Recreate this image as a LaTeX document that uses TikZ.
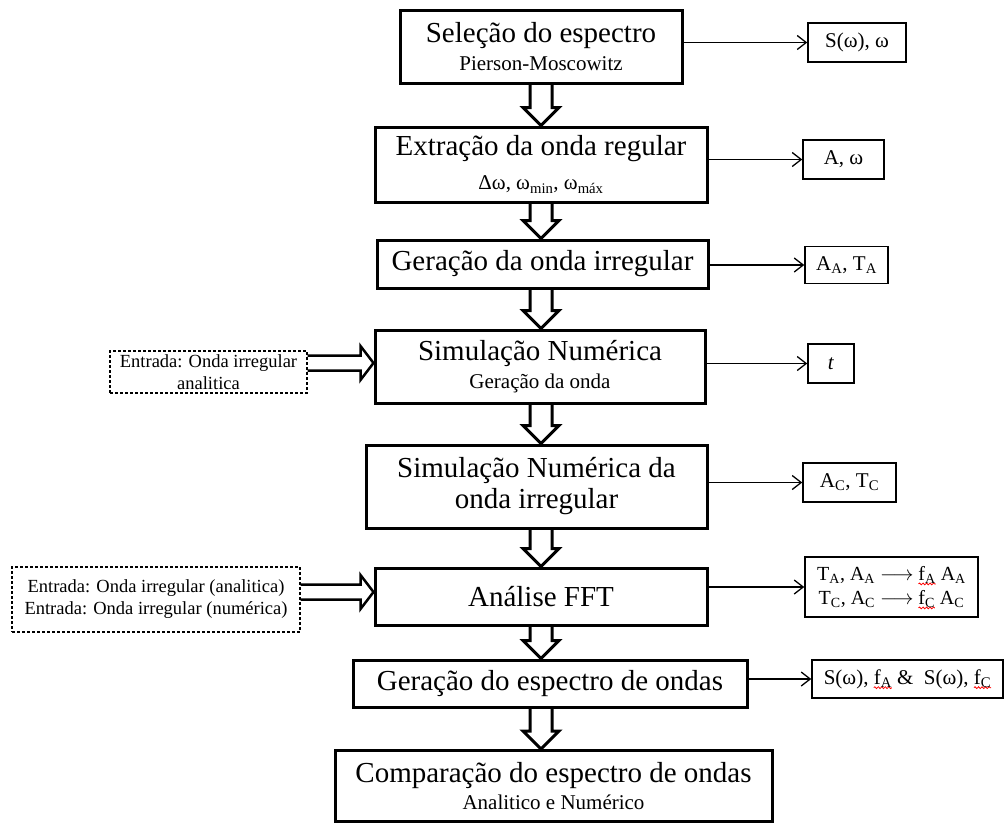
\documentclass[tikz,border=0pt]{standalone}
\usepackage{fontspec}
\setmainfont{Liberation Serif}
\usetikzlibrary{arrows.meta,calc,decorations.pathmorphing}
\newcommand\tfont{\fontsize{29}{31}\selectfont}
\newcommand\sfont{\fontsize{21}{23}\selectfont}
\newcommand\rfont{\fontsize{21}{24}\selectfont}
\newcommand\lfont{\fontsize{18.5}{22}\selectfont}
\newcommand\lsub[1]{\textsubscript{#1}}
\newsavebox\squigbox
\newcommand\squig[1]{\sbox\squigbox{#1}\makebox[0pt][l]{\tikz[overlay]\draw[red, line width=0.8pt, decorate, decoration={snake, amplitude=0.9pt, segment length=3.5pt}] (0pt,-3.5pt) -- (\wd\squigbox,-3.5pt);}\usebox\squigbox}
\newcommand\vblock[2]{\draw[blockarr] let \p1=(#1), \p2=(#2) in
  (\x1-11pt,\y1) -- (\x1-11pt,\y2+18pt) -- (\x1-18pt,\y2+18pt) -- (\x1,\y2)
  -- (\x1+18pt,\y2+18pt) -- (\x1+11pt,\y2+18pt) -- (\x1+11pt,\y1);}
\newcommand\hblock[2]{\draw[blockarr,line width=2.5pt] let \p1=(#1), \p2=(#2) in
  (\x1,\y1+7.5pt) -- (\x2-13pt,\y1+7.5pt) -- (\x2-13pt,\y1+17pt) -- (\x2,\y1)
  -- (\x2-13pt,\y1-17pt) -- (\x2-13pt,\y1-7.5pt) -- (\x1,\y1-7.5pt);}
\tikzset{
  mainbox/.style={draw, line width=3pt, align=center, inner sep=0pt, font=\tfont},
  rbox/.style={draw, line width=1.5pt, align=center, inner sep=0pt, font=\rfont},
  dbox/.style={draw, line width=1.2pt, dash pattern=on 3pt off 2pt, align=center, inner sep=0pt, font=\lfont},
  tarrow/.style={line width=1.3pt, -{Straight Barb[length=9pt,width=14pt,line width=1.3pt]}},
  blockarr/.style={line width=3pt, line join=miter},
}
\begin{document}
\begin{tikzpicture}[x=1pt,y=-1pt]
\useasboundingbox (0,0) rectangle (1006,823);
% main column
\node[mainbox, minimum width=282pt, minimum height=73pt] (b1) at (541,46.5)
  {Seleção do espectro\\[-3pt]{\sfont Pierson-Moscowitz}};
\node[mainbox, minimum width=332pt, minimum height=75pt] (b2) at (541,164.5)
  {Extração da onda regular\\[3pt]{\sfont Δω, ω\lsub{min}, ω\lsub{máx}}};
\node[mainbox, minimum width=331pt, minimum height=48pt] (b3) at (542.5,264)
  {Geração da onda irregular};
\node[mainbox, minimum width=330pt, minimum height=73pt] (b4) at (540,366.5)
  {Simulação Numérica\\[-3pt]{\sfont Geração da onda}};
\node[mainbox, minimum width=341pt, minimum height=83pt] (b5) at (536.5,486.5)
  {Simulação Numérica da\\onda irregular};
\node[mainbox, minimum width=332pt, minimum height=57pt] (b6) at (541,596.5)
  {Análise FFT};
\node[mainbox, minimum width=394pt, minimum height=47pt] (b7) at (550,683.5)
  {Geração do espectro de ondas};
\node[mainbox, minimum width=437pt, minimum height=71pt] (b8) at (553.5,786)
  {Comparação do espectro de ondas\\[-4pt]{\sfont Analitico e Numérico}};
% right boxes
\node[rbox, minimum width=98pt, minimum height=39pt] (r1) at (857,42.5) {S(ω), ω};
\node[rbox, minimum width=81pt, minimum height=39pt] (r2) at (843.5,159.5) {A, ω};
\node[rbox, minimum width=83pt, minimum height=37pt] (r3) at (846.5,265) {A\lsub{A}, T\lsub{A}};
\node[rbox, minimum width=46pt, minimum height=39pt] (r4) at (831,363.5) {\textit{t}};
\node[rbox, minimum width=93pt, minimum height=39pt] (r5) at (849.5,482.5) {A\lsub{C}, T\lsub{C}};
\node[rbox, minimum width=173pt, minimum height=60pt, font=\fontsize{20}{24}\selectfont] (r6) at (891.5,587)
  {T\lsub{A}, A\lsub{A} $\longrightarrow$ \squig{f\lsub{A}} A\lsub{A}\\T\lsub{C}, A\lsub{C} $\longrightarrow$ \squig{f\lsub{C}} A\lsub{C}};
\node[rbox, minimum width=191pt, minimum height=38pt] (r7) at (907.5,679)
  {S(ω), \squig{f\lsub{A}} \& \ S(ω), \squig{f\lsub{C}}};
% left dashed boxes
\node[dbox, minimum width=197pt, minimum height=42pt] (d1) at (208.5,372)
  {Entrada: Onda irregular\\analitica};
\node[dbox, minimum width=288pt, minimum height=65pt] (d2) at (156,599.5)
  {Entrada: Onda irregular (analitica)\\Entrada: Onda irregular (numérica)};
% helper coordinates
\coordinate (ax) at (541,0);
\coordinate (h1) at (0,363);
\coordinate (h2) at (0,592);
% block arrows
\vblock{b1.south -| ax}{b2.north -| ax}
\vblock{b2.south -| ax}{b3.north -| ax}
\vblock{b3.south -| ax}{b4.north -| ax}
\vblock{b4.south -| ax}{b5.north -| ax}
\vblock{b5.south -| ax}{b6.north -| ax}
\vblock{b6.south -| ax}{b7.north -| ax}
\vblock{b7.south -| ax}{b8.north -| ax}
\hblock{d1.east |- h1}{b4.west |- h1}
\hblock{d2.east |- h2}{b6.west |- h2}
% thin arrows
\draw[tarrow] (b1.east |- r1.west) -- (r1.west);
\draw[tarrow] (b2.east |- r2.west) -- (r2.west);
\draw[tarrow] (b3.east |- r3.west) -- (r3.west);
\draw[tarrow] (b4.east |- r4.west) -- (r4.west);
\draw[tarrow] (b5.east |- r5.west) -- (r5.west);
\draw[tarrow] (b6.east |- r6.west) -- (r6.west);
\draw[tarrow] (b7.east |- r7.west) -- (r7.west);
\end{tikzpicture}
\end{document}
